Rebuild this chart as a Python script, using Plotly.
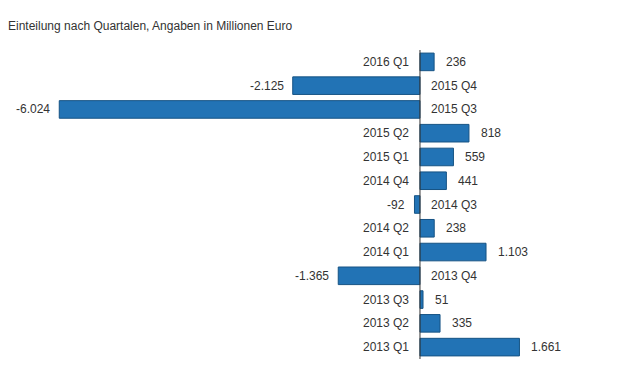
import plotly.graph_objects as go

categories = ["2016 Q1", "2015 Q4", "2015 Q3", "2015 Q2", "2015 Q1", "2014 Q4", "2014 Q3",
              "2014 Q2", "2014 Q1", "2013 Q4", "2013 Q3", "2013 Q2", "2013 Q1"]
values = [236, -2125, -6024, 818, 559, 441, -92, 238, 1103, -1365, 51, 335, 1661]
value_labels = ["236", "-2.125", "-6.024", "818", "559", "441", "-92", "238", "1.103",
                "-1.365", "51", "335", "1.661"]
title_text = "Einteilung nach Quartalen, Angaben in Millionen Euro"

FONT = "Liberation Sans, Arial, sans-serif"
TXT = "#333333"

W, H = 613, 375  # page body has 8px margin

fig = go.Figure()
fig.add_trace(go.Bar(
    x=values, y=categories, orientation="h",
    marker=dict(color="#2273b5", line=dict(color="#165384", width=1)),
    width=0.74, hoverinfo="skip",
))

annotations = []
for c, v, lab in zip(categories, values, value_labels):
    pos = v >= 0
    annotations.append(dict(
        x=v, y=c, xref="x", yref="y", text=lab, showarrow=False,
        xanchor="left" if pos else "right", xshift=10 if pos else -7,
        font=dict(family=FONT, size=12, color=TXT)))
    annotations.append(dict(
        x=0, y=c, xref="x", yref="y", text=c, showarrow=False,
        xanchor="right" if pos else "left", xshift=-9 if pos else 9,
        font=dict(family=FONT, size=12, color=TXT)))

fig.update_layout(
    width=W, height=H,
    margin=dict(l=0, r=0, t=41.6, b=23.6),
    paper_bgcolor="white", plot_bgcolor="white",
    showlegend=False,
    title=dict(text=title_text, x=0, xanchor="left", y=1 - 18 / H, yanchor="middle",
               font=dict(family=FONT, size=12, color=TXT)),
    xaxis=dict(range=[-6880, 3357], visible=False, fixedrange=True),
    yaxis=dict(categoryorder="array", categoryarray=categories, autorange="reversed",
               visible=False, fixedrange=True),
    annotations=annotations,
    shapes=[dict(type="line", xref="x", yref="paper", x0=0, x1=0, y0=0, y1=1,
                 line=dict(color="#333333", width=1))],
)

fig.write_html("out.html")
